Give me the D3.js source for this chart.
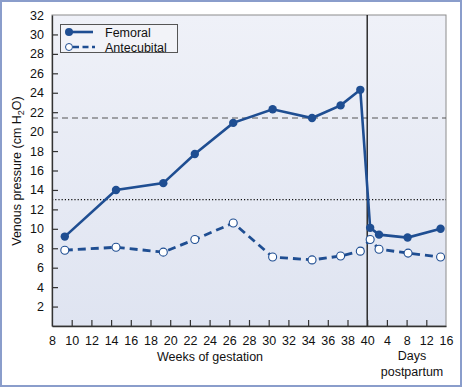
<!DOCTYPE html>
<html>
<head>
<meta charset="utf-8">
<script src="https://cdn.jsdelivr.net/npm/d3@7"></script>
<style>
  body { margin: 0; background: #fff; }
  svg { display: block; font-family: "Liberation Sans", Arial, sans-serif; }
</style>
</head>
<body>
<div id="chart"></div>
<script>
// weeks of gestation, then days postpartum (plotted after week 40)
var femWeeks = [9.3, 14.5, 19.3, 22.5, 26.4, 30.4, 34.4, 37.3, 39.3];
var femWeekVals = [9.2, 14.0, 14.7, 17.7, 20.9, 22.3, 21.4, 22.7, 24.3];
var femDays = [0.6, 2.4, 8.2, 14.9];
var femDayVals = [10.1, 9.4, 9.1, 10.0];

var antWeeks = [9.3, 14.5, 19.3, 22.5, 26.4, 30.4, 34.4, 37.3, 39.3];
var antWeekVals = [7.8, 8.1, 7.6, 8.9, 10.6, 7.1, 6.8, 7.2, 7.7];
var antDays = [0.6, 2.4, 8.3, 14.9];
var antDayVals = [8.9, 7.9, 7.5, 7.1];

var weekTicks = [8, 10, 12, 14, 16, 18, 20, 22, 24, 26, 28, 30, 32, 34, 36, 38, 40];
var dayTicks = [4, 8, 12, 16];
var yTicks = [2, 4, 6, 8, 10, 12, 14, 16, 18, 20, 22, 24, 26, 28, 30, 32];
var refDashed = 21.4;
var refDotted = 13;

var W = 463, H = 388;
var margin = {top: 15, right: 17, bottom: 62, left: 52};
var width = W - margin.left - margin.right;
var height = H - margin.top - margin.bottom;
var blue = "#1f4e92";

// days sit on the same axis: 4 days = 2 weeks spacing
function dayPos(d) { return 40 + d / 2; }

var x = d3.scaleLinear().domain([8, 48]).range([0, width]);
var y = d3.scaleLinear().domain([0, 32]).range([height, 0]);

var svg = d3.select("#chart").append("svg")
    .attr("width", W).attr("height", H);

// outer frame
svg.append("rect").attr("x", 1).attr("y", 1).attr("width", W - 3).attr("height", H - 3)
    .attr("fill", "#fff").attr("stroke", "#8a9dcb").attr("stroke-width", 2);

var defs = svg.append("defs");
var grad = defs.append("linearGradient").attr("id", "bg").attr("x1", 0).attr("y1", 0).attr("x2", 0).attr("y2", 1);
grad.append("stop").attr("offset", "0%").attr("stop-color", "#eff1f8");
grad.append("stop").attr("offset", "100%").attr("stop-color", "#dfe4f1");

var g = svg.append("g").attr("transform", "translate(" + margin.left + "," + margin.top + ")");

g.append("rect").attr("width", width).attr("height", height)
    .attr("fill", "url(#bg)").attr("stroke", "#8c8c8c").attr("stroke-width", 1);

// reference lines
g.append("line").attr("x1", 0).attr("x2", width)
    .attr("y1", y(refDashed)).attr("y2", y(refDashed))
    .attr("stroke", "#555").attr("stroke-width", 1.2).attr("stroke-dasharray", "6,4");
g.append("line").attr("x1", 0).attr("x2", width)
    .attr("y1", y(refDotted)).attr("y2", y(refDotted))
    .attr("stroke", "#111").attr("stroke-width", 1.2).attr("stroke-dasharray", "1.2,2");

// delivery line
g.append("line").attr("x1", x(40)).attr("x2", x(40)).attr("y1", 0).attr("y2", height)
    .attr("stroke", "#111").attr("stroke-width", 1.3);

// axes
var xPos = weekTicks.concat(dayTicks.map(dayPos));
var xLabels = weekTicks.concat(dayTicks);
var xAxis = d3.axisBottom(x).tickValues(xPos).tickSizeInner(-6).tickSizeOuter(0).tickPadding(10)
    .tickFormat(function(d, i) { return xLabels[i]; });
var xg = g.append("g").attr("transform", "translate(0," + height + ")").call(xAxis);

var yAxis = d3.axisLeft(y).tickValues(yTicks).tickSizeInner(-6).tickSizeOuter(0).tickPadding(8);
var yg = g.append("g").call(yAxis);

[xg, yg].forEach(function(a) {
    a.select(".domain").attr("stroke", "#333").attr("stroke-width", 1.3);
    a.selectAll(".tick line").attr("stroke", "#333").attr("stroke-width", 1.2);
    a.selectAll(".tick text").attr("font-size", 12.5).attr("fill", "#111")
        .attr("font-family", "Liberation Sans, Arial, sans-serif");
});
xg.selectAll(".tick").filter(function(d) { return d === 8 || d === 48; }).select("line").remove();
yg.selectAll(".tick").filter(function(d) { return d === 32; }).select("line").remove();

// series
function pts(ws, wv, ds, dv) {
    return ws.map(function(w, i) { return [w, wv[i]]; })
        .concat(ds.map(function(d, i) { return [dayPos(d), dv[i]]; }));
}
var fem = pts(femWeeks, femWeekVals, femDays, femDayVals);
var ant = pts(antWeeks, antWeekVals, antDays, antDayVals);
var line = d3.line().x(function(d) { return x(d[0]); }).y(function(d) { return y(d[1]); });

g.append("path").datum(ant).attr("d", line).attr("fill", "none")
    .attr("stroke", blue).attr("stroke-width", 2.8).attr("stroke-dasharray", "8,5");
g.append("path").datum(fem).attr("d", line).attr("fill", "none")
    .attr("stroke", blue).attr("stroke-width", 2.6);

g.selectAll(".fem").data(fem).enter().append("circle")
    .attr("cx", function(d) { return x(d[0]); }).attr("cy", function(d) { return y(d[1]); })
    .attr("r", 4.2).attr("fill", blue);
g.selectAll(".ant").data(ant).enter().append("circle")
    .attr("cx", function(d) { return x(d[0]); }).attr("cy", function(d) { return y(d[1]); })
    .attr("r", 4).attr("fill", "#fff").attr("stroke", blue).attr("stroke-width", 1.1);

// legend
var lg = svg.append("g");
lg.append("rect").attr("x", 60.5).attr("y", 24.5).attr("width", 117).attr("height", 28)
    .attr("fill", "#f2f3f8").attr("stroke", "#555").attr("stroke-width", 1);
lg.append("line").attr("x1", 69).attr("x2", 93).attr("y1", 32).attr("y2", 32)
    .attr("stroke", blue).attr("stroke-width", 2.6);
lg.append("circle").attr("cx", 69).attr("cy", 32).attr("r", 4).attr("fill", blue);
lg.append("line").attr("x1", 73).attr("x2", 95).attr("y1", 47).attr("y2", 47)
    .attr("stroke", blue).attr("stroke-width", 2.6).attr("stroke-dasharray", "6,3.5");
lg.append("circle").attr("cx", 69).attr("cy", 47).attr("r", 3.5)
    .attr("fill", "#fff").attr("stroke", blue).attr("stroke-width", 1);
lg.append("text").attr("x", 105).attr("y", 36.5).attr("font-size", 12.5).attr("fill", "#111").text("Femoral");
lg.append("text").attr("x", 105).attr("y", 51.5).attr("font-size", 12.5).attr("fill", "#111").text("Antecubital");

// axis titles
svg.append("text").attr("x", 210).attr("y", 361).attr("text-anchor", "middle")
    .attr("font-size", 12.5).attr("fill", "#111").text("Weeks of gestation");
svg.append("text").attr("x", 412).attr("y", 360).attr("text-anchor", "middle")
    .attr("font-size", 12.5).attr("fill", "#111").text("Days");
svg.append("text").attr("x", 412).attr("y", 376).attr("text-anchor", "middle")
    .attr("font-size", 12.5).attr("fill", "#111").text("postpartum");

var yl = svg.append("text").attr("transform", "translate(21,171) rotate(-90)")
    .attr("text-anchor", "middle").attr("font-size", 12.5).attr("fill", "#111");
yl.append("tspan").text("Venous pressure (cm H");
yl.append("tspan").attr("font-size", 9).attr("dy", 3).text("2");
yl.append("tspan").attr("dy", -3).text("O)");
</script>
</body>
</html>
